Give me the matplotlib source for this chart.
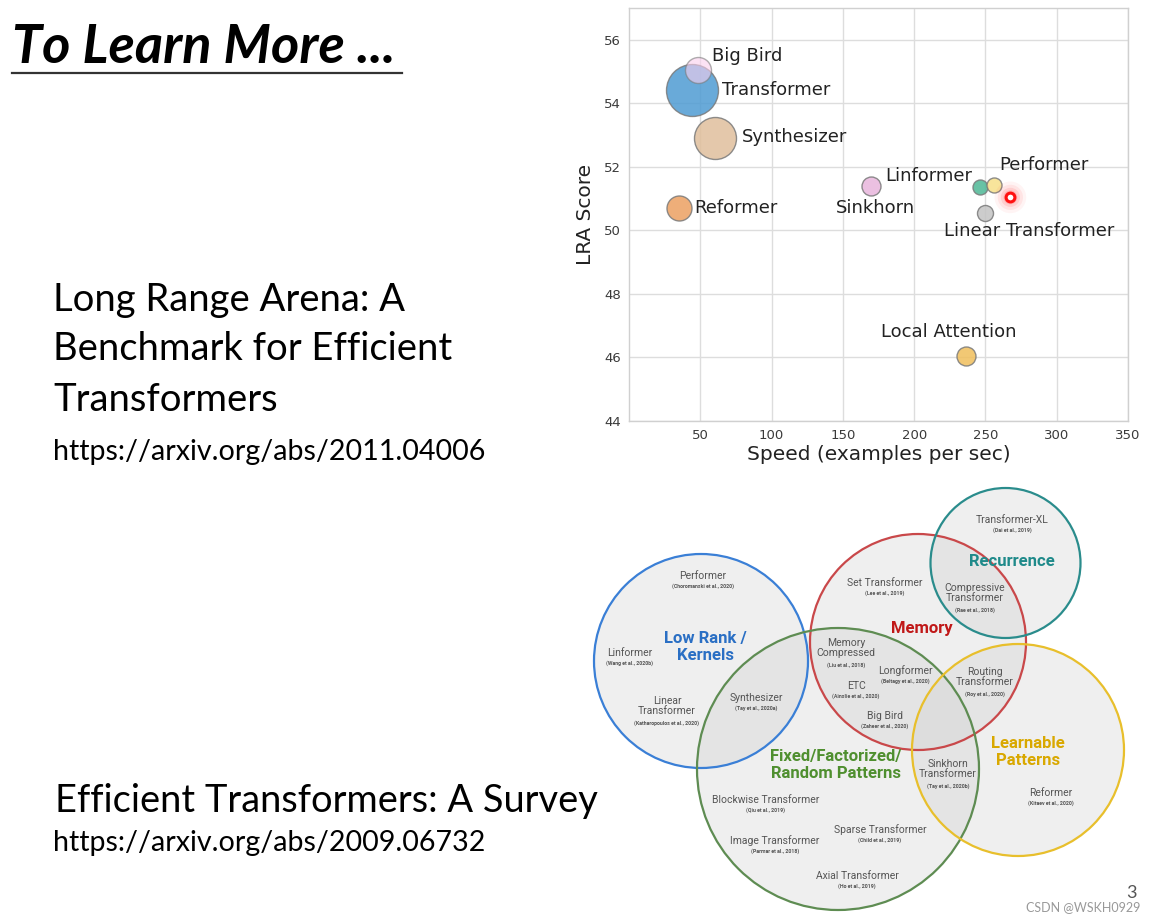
import matplotlib
matplotlib.use("Agg")
import matplotlib.pyplot as plt
from matplotlib.patches import Circle
import numpy as np

# ---------------- data: LRA scatter ----------------
models = ["Big Bird", "Transformer", "Synthesizer", "Reformer", "Sinkhorn",
          "Linformer", "Performer", "Linear Transformer", "Local Attention"]
speed = [48.2, 44.2, 60.5, 35.1, 169.9, 246.3, 256.3, 249.7, 236.6]
lra_score = [55.05, 54.43, 52.90, 50.69, 51.40, 51.37, 51.44, 50.56, 46.05]
memory = [350, 1400, 914, 324, 187, 117, 117, 133, 187]   # bubble size
colors = ["#fbd0ee", "#4f9bd3", "#e0bf9c", "#eca062", "#e8b5dc",
          "#4db896", "#f7e08a", "#c4c4c4", "#f0bf5c"]
alphas = [0.6, 0.85, 0.85, 0.85, 0.85, 0.85, 0.85, 0.85, 0.85]
pointer_xy = (267.5, 51.04)   # laser-pointer dot in the slide

x_ticks = [50, 100, 150, 200, 250, 300, 350]
y_ticks = [44, 46, 48, 50, 52, 54, 56]

# label layout (data coords of left/center of each label)
label_pos = {
    "Big Bird": (58.0, 55.50), "Transformer": (65.0, 54.43),
    "Synthesizer": (79.0, 52.93), "Reformer": (45.5, 50.70),
    "Sinkhorn": (145.0, 50.70), "Linformer": (179.5, 51.70),
    "Performer": (259.5, 52.07), "Linear Transformer": (221.0, 49.99),
    "Local Attention": (177.0, 46.79),
}

# ---------------- data: Venn diagram of efficient transformers ----------------
venn_sets = ["Low Rank /\nKernels", "Memory", "Recurrence",
             "Fixed/Factorized/\nRandom Patterns", "Learnable\nPatterns"]
venn_colors = ["#3a7fd6", "#c9484a", "#2a8c8c", "#5e8c52", "#e8bf2c"]
venn_text_colors = ["#2a6fc4", "#c01818", "#1f8a8a", "#4f8f2f", "#d9a800"]
venn_centers = [(701, 661), (918, 642), (1005.5, 563), (838, 769), (1018, 750)]
venn_radii = [107, 108, 75, 141, 106]
venn_label_pos = [(705, 647), (922, 628), (1012, 561), (836, 765), (1028, 752)]

venn_models = [
    ("Performer", "(Choromanski et al., 2020)", (703, 576)),
    ("Linformer", "(Wang et al., 2020b)", (630, 653)),
    ("Linear\nTransformer", "(Katharopoulos et al., 2020)", (667, 706)),
    ("Synthesizer", "(Tay et al., 2020a)", (756, 698)),
    ("Set Transformer", "(Lee et al., 2019)", (885, 583)),
    ("Transformer-XL", "(Dai et al., 2019)", (1012, 520)),
    ("Compressive\nTransformer", "(Rae et al., 2018)", (975, 593)),
    ("Memory\nCompressed", "(Liu et al., 2018)", (846, 648)),
    ("Longformer", "(Beltagy et al., 2020)", (905, 671)),
    ("ETC", "(Ainslie et al., 2020)", (856, 686)),
    ("Big Bird", "(Zaheer et al., 2020)", (885, 716)),
    ("Routing\nTransformer", "(Roy et al., 2020)", (985, 677)),
    ("Sinkhorn\nTransformer", "(Tay et al., 2020b)", (948, 769)),
    ("Reformer", "(Kitaev et al., 2020)", (1051, 793)),
    ("Blockwise Transformer", "(Qiu et al., 2019)", (766, 800)),
    ("Sparse Transformer", "(Child et al., 2019)", (880, 830)),
    ("Image Transformer", "(Parmar et al., 2018)", (775, 841)),
    ("Axial Transformer", "(Ho et al., 2019)", (857, 876)),
]

# ---------------- figure ----------------
W, H = 1155, 922
fig = plt.figure(figsize=(W / 100, H / 100), dpi=100)
fig.patch.set_facecolor("white")

# overlay axes in pixel coordinates for slide texts and the Venn diagram
ov = fig.add_axes([0, 0, 1, 1], zorder=0)
ov.set_xlim(0, W)
ov.set_ylim(H, 0)
ov.axis("off")

slide_font = ["Lato", "DejaVu Sans"]
ov.text(12, 63, "To Learn More ...", fontsize=39, fontweight="bold", style="italic",
        family=slide_font, ha="left", va="baseline", color="black")
ov.plot([12, 402], [73, 73], color="#333333", lw=1.6)

ov.text(53, 300, "Long Range Arena: A", fontsize=27.5, family=slide_font, va="center")
ov.text(53, 349, "Benchmark for Efficient", fontsize=27.5, family=slide_font, va="center")
ov.text(53, 400, "Transformers", fontsize=27.5, family=slide_font, va="center")
ov.text(53, 452, "https://arxiv.org/abs/2011.04006", fontsize=20.6, family=slide_font, va="center")
ov.text(55, 801, "Efficient Transformers: A Survey", fontsize=27.4, family=slide_font, va="center")
ov.text(53, 843, "https://arxiv.org/abs/2009.06732", fontsize=20.6, family=slide_font, va="center")
ov.text(1137, 893, "3", fontsize=13, color="#555555", family=slide_font, ha="right", va="center")
ov.text(1140, 907, "CSDN @WSKH0929", fontsize=9, color="#999999", family=slide_font,
        ha="right", va="center")

# Venn circles
for (cx, cy), r, ec in zip(venn_centers, venn_radii, venn_colors):
    ov.add_patch(Circle((cx, cy), r, facecolor="#cfcfcf", alpha=0.33, edgecolor="none"))
for (cx, cy), r, ec in zip(venn_centers, venn_radii, venn_colors):
    ov.add_patch(Circle((cx, cy), r, facecolor="none", edgecolor=ec, lw=1.6))

vf = ["Roboto", "DejaVu Sans"]
for name, (lx, ly), tc in zip(venn_sets, venn_label_pos, venn_text_colors):
    ov.text(lx, ly, name, fontsize=12, fontweight="bold", color=tc, family=vf,
            ha="center", va="center", linespacing=1.1)
for name, cite, (mx, my) in venn_models:
    nlines = name.count("\n") + 1
    ov.text(mx, my, name, fontsize=7.5, color="#555555", family=vf,
            ha="center", va="center", linespacing=1.1)
    cy = my + 5 + 6.8 * (nlines - 1) + 5.5
    ov.text(mx, cy, cite, fontsize=3.8, color="#555555", family=vf, fontweight="bold",
            ha="center", va="center")

# ---------------- LRA scatter ----------------
ax = fig.add_axes([629 / W, 1 - 421 / H, (1128 - 629) / W, (421 - 8) / H], zorder=2)
ax.set_facecolor("white")
ax.set_xlim(0, 350)
ax.set_ylim(44, 57)
ax.set_xticks(x_ticks)
ax.set_yticks(y_ticks)
ax.grid(True, color="#dddddd", lw=1.0)
ax.set_axisbelow(True)
for s in ax.spines.values():
    s.set_color("#d0d0d0")
    s.set_linewidth(1.0)
ax.tick_params(length=0, labelsize=9.5, labelcolor="#3a3a3a", pad=6)
ax.set_xlabel("Speed (examples per sec)", fontsize=14.5, color="#222222", labelpad=2)
ax.set_ylabel("LRA Score", fontsize=14.5, color="#222222", labelpad=6)

order = [1, 0, 2, 3, 4, 5, 6, 7, 8]
for i in order:
    ax.scatter(speed[i], lra_score[i], s=memory[i], color=colors[i], alpha=alphas[i],
               edgecolor="#7a7a7a", linewidth=1.0, zorder=3)
for i, m in enumerate(models):
    lx, ly = label_pos[m]
    ax.text(lx, ly, m, fontsize=13, color="#222222", ha="left", va="center", zorder=4)

# laser pointer glow
for s_, a_ in [(520, 0.05), (330, 0.08), (190, 0.12), (100, 0.18)]:
    ax.scatter(*pointer_xy, s=s_, color="#ff3030", alpha=a_, edgecolor="none", zorder=5)
ax.scatter(*pointer_xy, s=40, facecolor="white", edgecolor="#ff1010", linewidth=2.2, zorder=6)

fig.savefig("out.png", dpi=100, facecolor="white")
